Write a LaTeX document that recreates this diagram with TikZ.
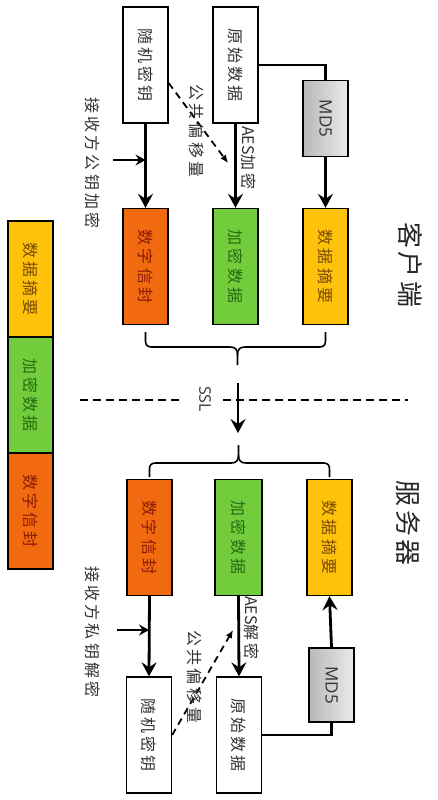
\documentclass[tikz,border=0pt]{standalone}
\usepackage{graphicx}
\usepackage{fontspec}
\newfontfamily\cjk[LetterSpace=20]{Noto Sans CJK SC}
\newfontfamily\cjkplain{Noto Sans CJK SC}
\newfontfamily\cjktitle[LetterSpace=15]{Noto Sans CJK SC}
\newfontfamily\latn{Open Sans}
\usetikzlibrary{arrows.meta,calc}

\definecolor{envfill}{HTML}{F26A10}
\definecolor{envtext}{HTML}{8A1C05}
\definecolor{encfill}{HTML}{72CC3C}
\definecolor{enctext}{HTML}{226E12}
\definecolor{digfill}{HTML}{FFC20A}
\definecolor{digtext}{HTML}{7A4A05}
\definecolor{inktext}{HTML}{333333}

% upright text turned a quarter clockwise
\newcommand\vtext[1]{\rotatebox{-90}{#1}}

\tikzset{
  box/.style={draw=black, line width=1.3pt, minimum width=45pt, minimum height=116pt,
    inner sep=0pt, font=\cjk\fontsize{16}{16}\selectfont},
  plainbox/.style={box, fill=white, text=inktext},
  envbox/.style={box, fill=envfill, text=envtext},
  encbox/.style={box, fill=encfill, text=enctext},
  digbox/.style={box, fill=digfill, text=digtext},
  hashbox/.style={draw=black, line width=1.3pt, minimum width=45pt, minimum height=76pt,
    inner sep=0pt, left color=black!28, right color=black!8, text=inktext,
    font=\latn\fontsize{17}{17}\selectfont},
  lbl/.style={inner sep=0pt, text=inktext, font=\cjk\fontsize{16}{16}\selectfont},
  title/.style={inner sep=0pt, text=black!85, font=\cjktitle\fontsize{26}{26}\selectfont},
  flow/.style={line width=2.8pt, -{Stealth[length=14pt,width=15pt,inset=5pt]}},
  feed/.style={line width=2.8pt, -{Stealth[length=10pt,width=11pt,inset=3.5pt]}},
  link/.style={line width=2.8pt},
  share/.style={line width=1.8pt, dash pattern=on 7pt off 5pt, -{Latex[length=8pt,width=7pt]}},
  brace/.style={line width=1.6pt, line join=round},
  sep/.style={line width=1.6pt, dash pattern=on 8pt off 5pt},
}

\begin{document}
\begin{tikzpicture}[x=1pt, y=-1pt]
\useasboundingbox[fill=white] (0,0) rectangle (437,800);

% ---------- client side ----------
\node[plainbox] (rk1) at (145.5,65) {\vtext{随机密钥}};
\node[plainbox] (od1) at (235.5,65) {\vtext{原始数据}};
\node[hashbox]  (md1) at (325.5,118.5) {\vtext{MD5}};

\node[envbox] (ds1) at (145.5,266.5) {\vtext{数字信封}};
\node[encbox] (ed1) at (235.5,266.5) {\vtext{加密数据}};
\node[digbox] (dg1) at (325.5,266.5) {\vtext{数据摘要}};

\draw[flow] (rk1.south) -- (ds1.north);
\draw[flow] (od1.south) -- (ed1.north);
\draw[link] (od1.east) -| (md1.north);
\draw[flow] (md1.south) -- (dg1.north);

\coordinate (pk1) at (113,160);
\draw[feed] (pk1) -- (pk1 -| rk1.south);
\node[lbl] (pub) at (93,163) {\vtext{接收方公钥加密}};

\coordinate (sh1a) at ($(rk1.east)+(0,18)$);
\coordinate (sh1b) at (228,163);
\draw[share] (sh1a) -- (sh1b);
\node[lbl] (off1) at (197,131) {\vtext{公共偏移量}};
\node[lbl] (aes1) at (249,158) {\vtext{{\cjkplain AES}加密}};

% bundle brace under the three packets
\coordinate (tip1) at (237.5,365);
\draw[brace] ($(ds1.south)+(0,7)$) -- (145.5,341)
  .. controls (145.5,345) and (147.5,347) .. (151.5,347) -- (230,347)
  .. controls (235,347) and (237.5,349) .. (237.5,355) -- (tip1);
\draw[brace] ($(dg1.south)+(0,7)$) -- (325.5,341)
  .. controls (325.5,345) and (323.5,347) .. (319.5,347) -- (245,347)
  .. controls (240,347) and (237.5,349) .. (237.5,355);

\node[title] (client) at (410,265) {\vtext{客户端}};

% ---------- transport ----------
\draw[sep] (80,400) -- (183,400);
\draw[sep] (223,400) -- (408,400);
\coordinate (sslA) at (238,383);
\coordinate (sslB) at (238,433);
\draw[flow] (sslA) -- (sslB);
\node[inner sep=0pt, text=inktext, font=\latn\fontsize{16}{16}\selectfont] (ssl) at (205,399) {\vtext{SSL}};

% ---------- server side ----------
\coordinate (tip2) at (238.5,445);
\draw[brace] (149.5,477) -- (149.5,469)
  .. controls (149.5,465) and (151.5,463) .. (155.5,463) -- (231,463)
  .. controls (236,463) and (238.5,461) .. (238.5,455) -- (tip2);
\draw[brace] (329.5,477) -- (329.5,469)
  .. controls (329.5,465) and (327.5,463) .. (323.5,463) -- (246,463)
  .. controls (241,463) and (238.5,461) .. (238.5,455);

\node[envbox] (ds2) at (149.5,537.5) {\vtext{数字信封}};
\node[encbox, minimum width=47pt] (ed2) at (238.5,537.5) {\vtext{加密数据}};
\node[digbox] (dg2) at (329.5,537.5) {\vtext{数据摘要}};

\node[plainbox] (rk2) at (149,735) {\vtext{随机密钥}};
\node[plainbox] (od2) at (239,735) {\vtext{原始数据}};
\node[hashbox, minimum height=74pt] (md2) at (331.5,685) {\vtext{MD5}};

\draw[flow] (ds2.south) -- (rk2.north);
\draw[flow] (ed2.south) -- (od2.north);
\draw[link] (od2.east) -| (md2.south);
\draw[flow] (md2.north) -- (dg2.south);

\coordinate (pk2) at (117,630);
\draw[feed] (pk2) -- (pk2 -| rk2.north);
\node[lbl] (priv) at (93,632) {\vtext{接收方私钥解密}};

\coordinate (sh2b) at (233,630);
\draw[share] (rk2.east) -- (sh2b);
\node[lbl] (off2) at (195,677) {\vtext{公共偏移量}};
\node[lbl] (aes2) at (252,628) {\vtext{{\cjkplain AES}解密}};

\node[title] (server) at (408,523) {\vtext{服务器}};

% ---------- legend ----------
\node[digbox] (lg1) at (30.5,279) {\vtext{数据摘要}};
\node[encbox] (lg2) at (30.5,395) {\vtext{加密数据}};
\node[envbox] (lg3) at (30.5,511) {\vtext{数字信封}};
\end{tikzpicture}
\end{document}
